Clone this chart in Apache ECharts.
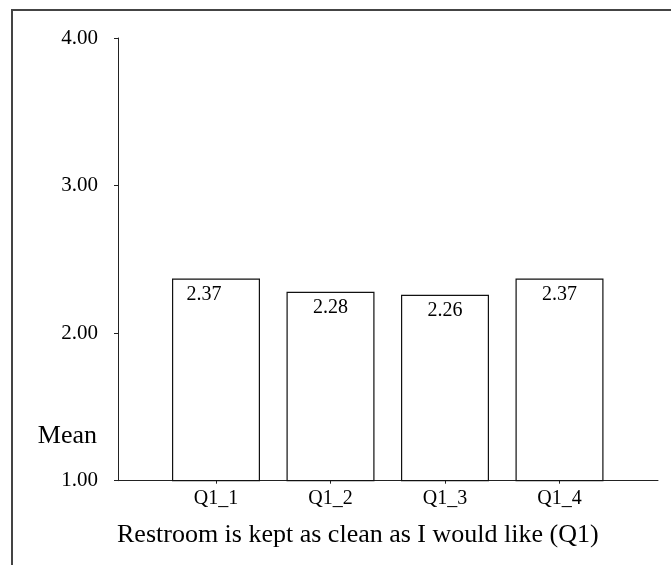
<!DOCTYPE html>
<html>
<head>
<meta charset="utf-8">
<script src="https://cdn.jsdelivr.net/npm/echarts@6/dist/echarts.min.js"></script>
<style>
html,body{margin:0;padding:0;background:#fff;}
#chart{width:671px;height:565px;}
</style>
</head>
<body>
<div id="chart"></div>
<script>
var categories = ['Q1_1', 'Q1_2', 'Q1_3', 'Q1_4'];
var meanValues = [2.37, 2.28, 2.26, 2.37];
var yTicks = [1, 2, 3, 4];
var yAxisTitle = 'Mean';
var xAxisTitle = 'Restroom is kept as clean as I would like (Q1)';

var FONT = '"Liberation Serif", "Times New Roman", serif';
var chart = echarts.init(document.getElementById('chart'), null, {renderer: 'canvas'});

var data = meanValues.map(function (v, i) {
  var item = {value: v};
  if (i === 0) item.label = {offset: [-12, 0]};
  return item;
});

var option = {
  backgroundColor: '#fff',
  animation: false,
  grid: [
    {left: 118, right: 13, top: 38, bottom: 84.3},
    {left: 158.75, right: 54.25, top: 38, bottom: 84.3}
  ],
  xAxis: [
    {
      gridIndex: 0, type: 'value', min: 0, max: 1,
      axisLine: {show: true, lineStyle: {color: '#222', width: 1}},
      axisTick: {show: false}, axisLabel: {show: false}, splitLine: {show: false}
    },
    {
      gridIndex: 1, type: 'category', data: categories,
      axisLine: {show: false},
      axisTick: {show: true, alignWithLabel: true, length: 3, lineStyle: {color: '#222'}},
      axisLabel: {fontFamily: FONT, fontSize: 20, color: '#000', margin: 8},
      splitLine: {show: false}
    }
  ],
  yAxis: [
    {
      gridIndex: 0, type: 'value', min: yTicks[0], max: yTicks[yTicks.length - 1], interval: 1,
      axisLine: {show: true, lineStyle: {color: '#222', width: 1}},
      axisTick: {show: true, length: 4, lineStyle: {color: '#222'}},
      axisLabel: {
        fontFamily: FONT, fontSize: 21, color: '#000', margin: 20,
        formatter: function (v) { return v.toFixed(2); }
      },
      splitLine: {show: false}
    },
    {
      gridIndex: 1, type: 'value', min: yTicks[0], max: yTicks[yTicks.length - 1], interval: 1,
      show: false
    }
  ],
  series: [
    {
      type: 'bar', xAxisIndex: 1, yAxisIndex: 1,
      data: data,
      barWidth: 88,
      itemStyle: {color: '#fff', borderColor: '#111', borderWidth: 1.2},
      label: {
        show: true, position: 'insideTop', distance: 6,
        fontFamily: FONT, fontSize: 20, color: '#000',
        formatter: function (p) { return p.value.toFixed(2); }
      }
    }
  ],
  graphic: [
    {type: 'line', shape: {x1: 12, y1: 10, x2: 12, y2: 565}, style: {stroke: '#444', lineWidth: 2}, silent: true},
    {type: 'line', shape: {x1: 11, y1: 10, x2: 671, y2: 10}, style: {stroke: '#444', lineWidth: 2}, silent: true},
    {type: 'text', x: 97, y: 436, style: {text: yAxisTitle, font: '26px ' + FONT, fill: '#000', align: 'right', verticalAlign: 'middle'}},
    {type: 'text', x: 117, y: 535, style: {text: xAxisTitle, font: '26px ' + FONT, fill: '#000', align: 'left', verticalAlign: 'middle'}}
  ]
};
chart.setOption(option);
</script>
</body>
</html>
